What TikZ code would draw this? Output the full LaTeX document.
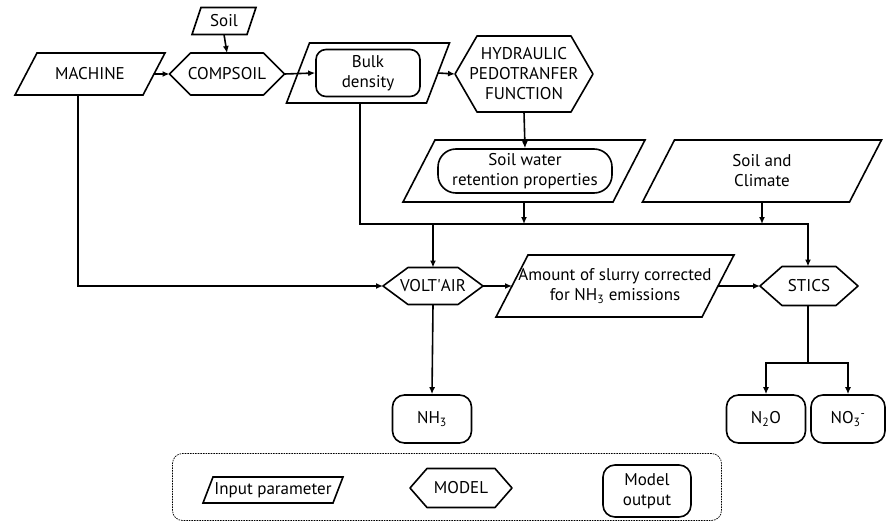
\documentclass[tikz,border=0pt]{standalone}
\usepackage{fontspec}
\setmainfont{PT Sans}
\usetikzlibrary{arrows.meta, positioning, shapes, calc}

\begin{document}
\begin{tikzpicture}[x=1pt, y=-1pt,
        every node/.style={font=\fontsize{17}{20}\selectfont, align=center, inner sep=0pt, line width=1.6pt},
        % parallelogram round a plain rectangle, #1 = half of the slant
        inp/.style={rectangle, outer sep=0pt, append after command={\pgfextra{\let\inpnode\tikzlastnode
            \draw[line width=1.6pt] ($(\inpnode.south west)+(-#1,0)$) -- ($(\inpnode.north west)+(#1,0)$)
            -- ($(\inpnode.north east)+(#1,0)$) -- ($(\inpnode.south east)+(-#1,0)$) -- cycle;}}},
        inp/.default=11pt,
        % hexagon with its points on west and east, #1 = depth of the point
        model/.style={rectangle, outer sep=0pt, append after command={\pgfextra{\let\modnode\tikzlastnode
            \draw[line width=1.6pt, line join=round] (\modnode.west) -- ($(\modnode.north west)+(#1,0)$)
            -- ($(\modnode.north east)+(-#1,0)$) -- (\modnode.east) -- ($(\modnode.south east)+(-#1,0)$)
            -- ($(\modnode.south west)+(#1,0)$) -- cycle;}}},
        model/.default=22pt,
        outp/.style={draw, rectangle, rounded corners=12pt},
        flow/.style={-{Latex[length=7pt,width=6pt]}, line width=1.6pt},
    ]
    \useasboundingbox (0,0) rectangle (889,524);

    % inputs
    \node[inp=4.5pt, minimum width=55pt, minimum height=27pt] (soil) at (224,21) {Soil};
    \node[inp, minimum width=128pt, minimum height=42pt] (machine) at (90,74) {MACHINE};
    \node[inp=11.5pt, minimum width=140pt, minimum height=60pt] (bulkpara) at (368,73) {};
    \node[outp, rounded corners=10pt, minimum width=104pt, minimum height=47pt] (bulk) at (368,73) {Bulk\\density};
    \node[inp=16pt, minimum width=210pt, minimum height=62pt] (swrpara) at (524,171) {};
    \node[outp, rounded corners=18pt, minimum width=174pt, minimum height=44pt] (swr) at (525,171) {Soil water\\retention properties};
    \node[inp=16pt, minimum width=207pt, minimum height=62pt] (climate) at (762,171) {Soil and\\Climate};
    \node[inp=16pt, minimum width=206pt, minimum height=62pt] (amount) at (615,286) {Amount of slurry corrected\\for NH\textsubscript{3} emissions};

    % models
    \node[model=21pt, minimum width=115pt, minimum height=42pt] (compsoil) at (227,74) {COMPSOIL};
    \node[model, minimum width=138pt, minimum height=76pt] (hydro) at (524,74) {HYDRAULIC\\PEDOTRANFER\\FUNCTION};
    \node[model=25pt, minimum width=100pt, minimum height=37pt] (voltair) at (433,286) {VOLT\textquotesingle AIR};
    \node[model, minimum width=98pt, minimum height=39pt] (stics) at (809,286) {STICS};

    % outputs
    \node[outp, minimum width=79pt, minimum height=48pt] (nh3) at (432,419) {NH\textsubscript{3}};
    \node[outp, minimum width=79pt, minimum height=48pt] (n2o) at (766,419) {N\textsubscript{2}O};
    \node[outp, minimum width=74pt, minimum height=48pt] (no3) at (848,419) {NO\textsubscript{3}\textsuperscript{-}};

    % connectors
    \coordinate (bus) at (360,224);
    \coordinate (mdrop) at (78,286);
    \coordinate (split) at (808,363);
    \draw[flow] (soil.south) -- (compsoil.north);
    \draw[flow] (machine.east) -- (compsoil.west);
    \draw[flow] (compsoil.east) -- (bulk.west);
    \draw[flow] (bulkpara.east) -- (hydro.west);
    \draw[flow] (hydro.south) -- (swr.north);
    \draw[flow] (swrpara.south) -- (swrpara.south |- bus);
    \draw[flow] (climate.south) -- (climate.south |- bus);
    \draw[flow] (bulkpara.south -| bus) |- (split |- bus) -- (stics.north -| split);
    \draw[flow] (voltair.north |- bus) -- (voltair.north);
    \draw[flow] (machine.south -| mdrop) |- (voltair.west);
    \draw[flow] (voltair.east) -- (amount.west);
    \draw[flow] (amount.east) -- (stics.west);
    \draw[flow] (voltair.south) -- (nh3.north);
    \draw[line width=1.6pt] (stics.south -| split) -- (split);
    \draw[flow] (split) -| (n2o.north);
    \draw[flow] (split) -| (no3.north);

    % legend
    \node[draw, densely dotted, line width=0.7pt, rounded corners=10pt, minimum width=549pt, minimum height=67pt] (legend) at (447,487) {};
    \node[inp=5pt, minimum width=130pt, minimum height=26pt] (leginp) at (273,490) {Input parameter};
    \node[model=17pt, minimum width=102pt, minimum height=39pt] (legmodel) at (461,488) {MODEL};
    \node[outp, minimum width=88pt, minimum height=52pt] (legout) at (647,491) {Model\\output};
\end{tikzpicture}
\end{document}
